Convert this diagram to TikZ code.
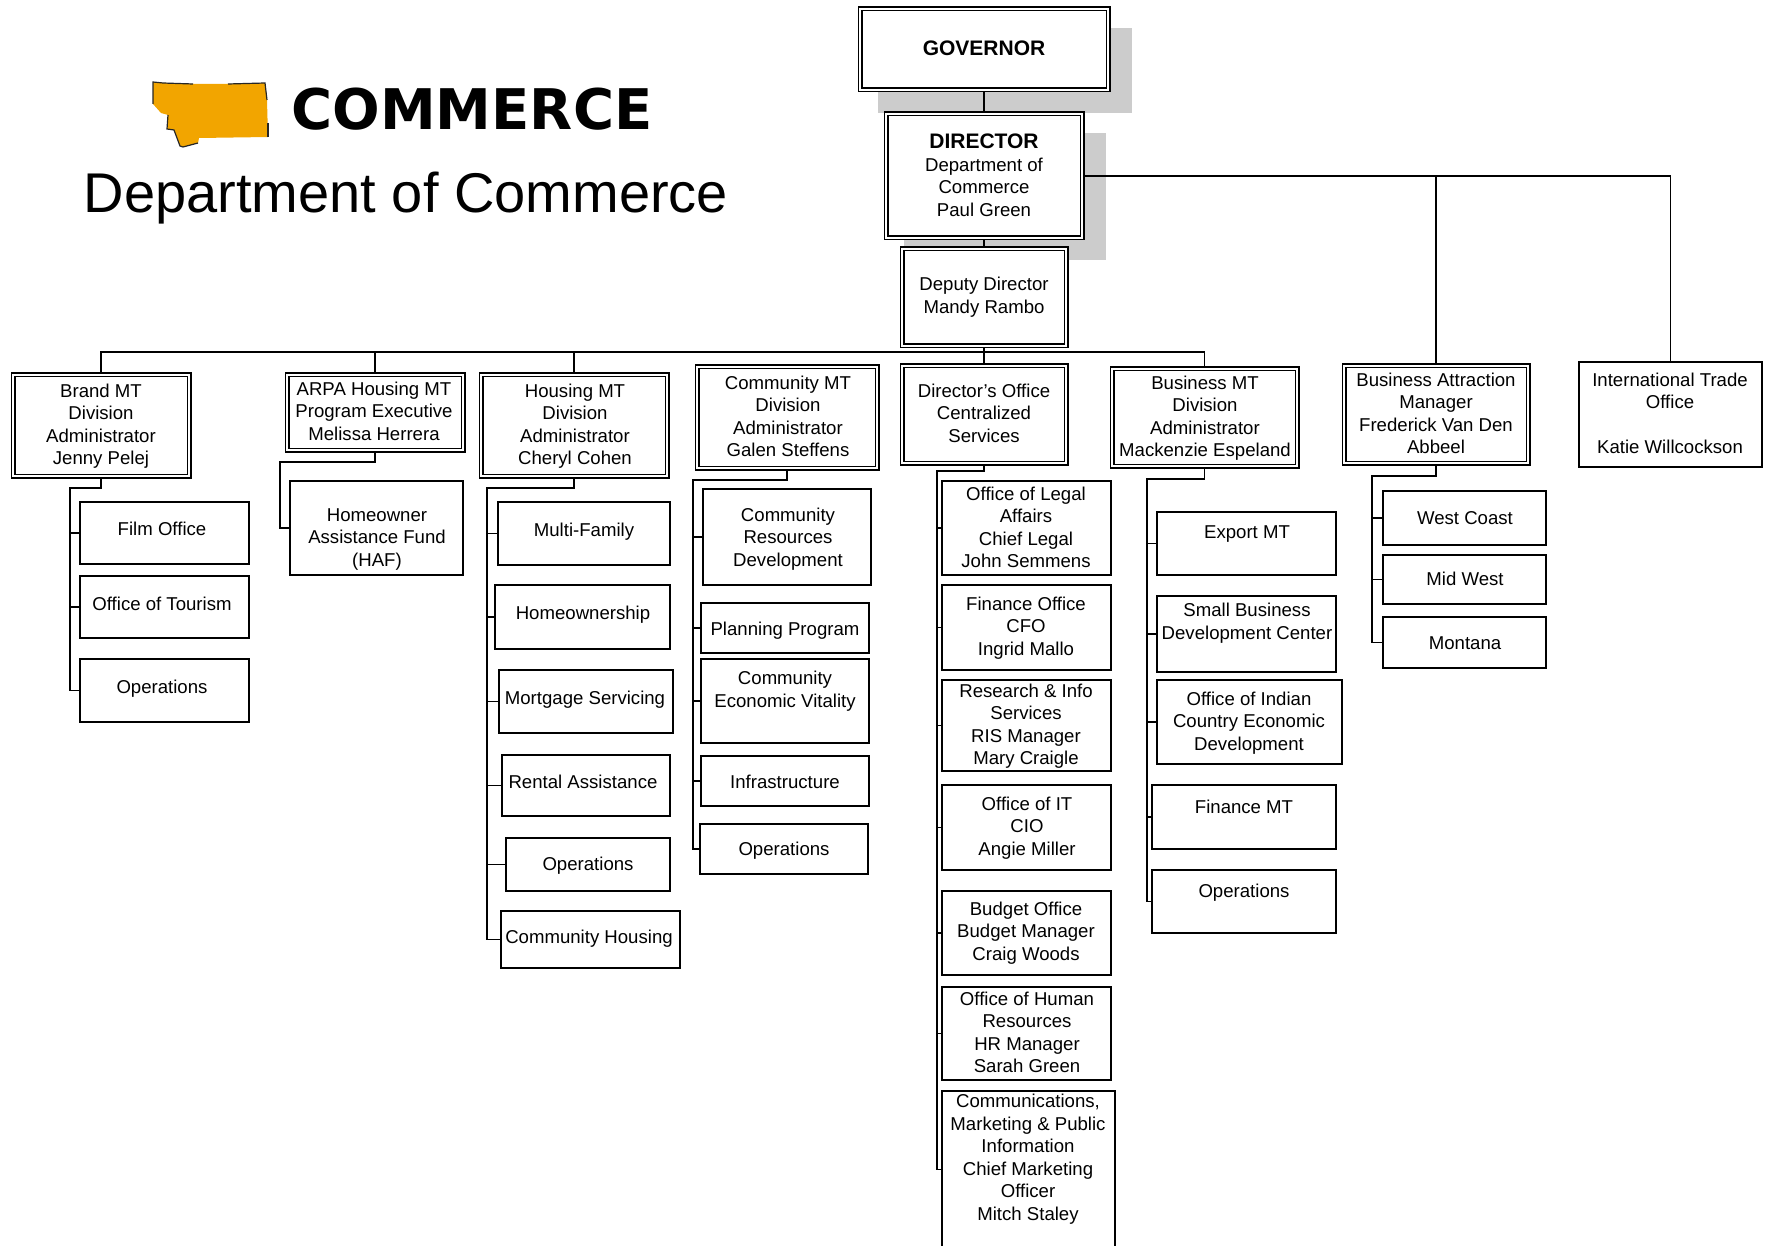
\documentclass[tikz,border=0pt]{standalone}
\usepackage{fontspec}
\setmainfont{Liberation Sans}
\newfontfamily\logofont{DejaVu Sans}
\definecolor{mtorange}{HTML}{F2A500}
\definecolor{dropgrey}{HTML}{CCCCCC}
\tikzset{
    unit/.style={draw, fill=white, line width=1.5pt, inner sep=0},
    dbl/.style={draw, fill=white, line width=1.5pt, double, double distance=2pt, inner sep=0, outer sep=2.5pt},
    unittext/.style={align=center, inner sep=0, yshift=-3.5pt, font=\fontsize{18.6}{22.5}\selectfont,
        execute at begin node=\strut, execute at end node=\strut},
    link/.style={line width=1.4pt, line cap=rect},
    logoedge/.style={line width=1.2pt, black!85},
    dropshadow/.style={fill=dropgrey}
}
% [style]{name}{x1}{y1}{x2}{y2}{text x}{text y}{text}
\newcommand{\unitbox}[9][unit]{%
    \node[#1, minimum width={#5-#3}, minimum height={#6-#4}] (#2) at ({(#3+#5)/2}, {(#4+#6)/2}) {};
    \node[unittext] (#2-t) at (#7, #8) {#9};
}
\newcommand{\headline}[1]{{\fontsize{21}{22.5}\selectfont\bfseries #1}}

\begin{document}
\begin{tikzpicture}[x=1pt, y=-1pt]
    \useasboundingbox (0, 0) rectangle (1767, 1246);
    \clip (0, 0) rectangle (1767, 1246);

    % logo and title
    \fill[mtorange] (153, 82) -- (163, 83) -- (193, 84) -- (228, 84) -- (265, 83) -- (267, 100) -- (268, 137)
        -- (199, 138) -- (198, 143) -- (183, 147) -- (180, 146) -- (174, 130) -- (167, 129) -- (168, 115)
        -- (161, 113) -- (153, 104) -- cycle;
    \draw[logoedge] (153, 104) -- (153, 82) -- (163, 83) -- (193, 84);
    \draw[logoedge] (228, 84) -- (265, 83) -- (267, 100);
    \draw[logoedge] (268, 123) -- (268, 137);
    \draw[logoedge] (198, 143) -- (183, 147) -- (180, 146) -- (174, 130) -- (167, 129) -- (168, 115);
    \node[inner sep=0, font=\logofont\fontsize{56}{60}\selectfont\bfseries] (logotext) at (472, 109) {COMMERCE};
    \node[inner sep=0, font=\fontsize{56}{60}\selectfont] (title) at (406, 198.5) {Department of Commerce};

    % grey blocks behind the top boxes
    \fill[dropshadow] (878, 28) rectangle (1132, 113);
    \fill[dropshadow] (904, 133) rectangle (1106, 260);

    % top of the chart
    \unitbox[dbl]{gov}{860}{9}{1108}{90}{984}{48}{\headline{GOVERNOR}}
    \unitbox[dbl]{dir}{886}{114}{1082}{238}{984}{175}{\headline{DIRECTOR}\\Department of\\Commerce\\Paul Green}
    \unitbox[dbl]{dep}{902}{249}{1066}{346}{984}{295}{Deputy Director\\Mandy Rambo}

    % divisions
    \unitbox[dbl]{brand}{13}{375}{189}{476}{101}{424}{Brand MT\\Division\\Administrator\\Jenny Pelej}
    \unitbox[dbl]{arpa}{287}{375}{463}{450}{374}{411}{ARPA Housing MT\\Program Executive\\Melissa Herrera}
    \unitbox[dbl]{housing}{481}{375}{667}{476}{575}{424}{Housing MT\\Division\\Administrator\\Cheryl Cohen}
    \unitbox[dbl]{cmt}{697}{367}{877}{468}{788}{416}{Community MT\\Division\\Administrator\\Galen Steffens}
    \unitbox[dbl]{dirof}{902}{366}{1066}{463}{984}{413}{Director's Office\\Centralized\\Services}
    \unitbox[dbl]{bmt}{1112}{369}{1297}{466}{1205}{416}{Business MT\\Division\\Administrator\\Mackenzie Espeland}
    \unitbox[dbl]{ba}{1344}{366}{1528}{463}{1436}{413}{Business Attraction\\Manager\\Frederick Van Den\\Abbeel}
    \unitbox{intl}{1579}{362}{1762}{467}{1670}{413}{International Trade\\Office\\~\\Katie Willcockson}

    % units under brand
    \unitbox{film}{80}{502}{249}{564}{162}{527}{Film Office}
    \unitbox{tour}{80}{576}{249}{638}{162}{602}{Office of Tourism}
    \unitbox{brandops}{80}{659}{249}{722}{162}{685}{Operations}

    % unit under arpa
    \unitbox{haf}{290}{481}{463}{575}{377}{537}{Homeowner\\Assistance Fund\\(HAF)}

    % units under housing
    \unitbox{multi}{498}{502}{670}{565}{584}{528}{Multi-Family}
    \unitbox{homeown}{495}{585}{670}{649}{583}{611}{Homeownership}
    \unitbox{mortgage}{499}{670}{673}{733}{585}{696}{Mortgage Servicing}
    \unitbox{rental}{502}{755}{670}{816}{583}{780}{Rental Assistance}
    \unitbox{housops}{506}{838}{670}{891}{588}{862}{Operations}
    \unitbox{commhous}{501}{911}{680}{968}{589}{935}{Community Housing}

    % units under community
    \unitbox{crd}{703}{489}{871}{585}{788}{537}{Community\\Resources\\Development}
    \unitbox{planning}{701}{603}{869}{653}{785}{627}{Planning Program}
    \unitbox{vitality}{701}{659}{869}{743}{785}{689}{Community\\Economic Vitality}
    \unitbox{infra}{701}{756}{869}{806}{785}{780}{Infrastructure}
    \unitbox{commops}{700}{824}{868}{874}{784}{847}{Operations}

    % units under the director's office
    \unitbox{legal}{942}{481}{1111}{575}{1026}{527}{Office of Legal\\Affairs\\Chief Legal\\John Semmens}
    \unitbox{fin}{942}{585}{1111}{670}{1026}{626}{Finance Office\\CFO\\Ingrid Mallo}
    \unitbox{research}{942}{680}{1111}{771}{1026}{724}{Research \& Info\\Services\\RIS Manager\\Mary Craigle}
    \unitbox{itoff}{942}{785}{1111}{870}{1027}{826}{Office of IT\\CIO\\Angie Miller}
    \unitbox{budget}{942}{891}{1111}{975}{1026}{931}{Budget Office\\Budget Manager\\Craig Woods}
    \unitbox{hr}{942}{987}{1111}{1080}{1027}{1032}{Office of Human\\Resources\\HR Manager\\Sarah Green}
    \unitbox{comms}{942}{1091}{1115}{1248}{1028}{1157}{Communications,\\Marketing \& Public\\Information\\Chief Marketing\\Officer\\Mitch Staley}

    % units under business
    \unitbox{export}{1157}{512}{1336}{575}{1247}{530}{Export MT}
    \unitbox{sbdc}{1157}{596}{1336}{672}{1247}{621}{Small Business\\Development Center}
    \unitbox{indian}{1157}{680}{1342}{764}{1249}{721}{Office of Indian\\Country Economic\\Development}
    \unitbox{finmt}{1152}{785}{1336}{849}{1244}{805}{Finance MT}
    \unitbox{bizops}{1152}{870}{1336}{933}{1244}{889}{Operations}

    % units under business attraction
    \unitbox{west}{1383}{491}{1546}{545}{1465}{516}{West Coast}
    \unitbox{midw}{1383}{555}{1546}{604}{1465}{577}{Mid West}
    \unitbox{montana}{1383}{617}{1546}{668}{1465}{641}{Montana}

    % connectors
    \coordinate (bus) at (984, 352);
    \draw[link] (gov) -- (dir);
    \draw[link] (dir) -- (dep);
    \draw[link] (dep.south) -- (bus);
    \draw[link] (bus -| brand.north) -- (bus -| bmt.north);
    \foreach \div in {brand, arpa, housing, dirof, bmt}
        \draw[link] (bus -| \div.north) -- (\div.north);
    \draw[link] (dir.east) -| (intl.north);
    \draw[link] (dir.east -| ba.north) -- (ba.north);

    \coordinate (brand-j) at (70, 488);
    \coordinate (arpa-j) at (280, 462);
    \coordinate (housing-j) at (487, 488);
    \coordinate (cmt-j) at (693, 480);
    \coordinate (dirof-j) at (937, 471);
    \coordinate (bmt-j) at (1147, 479);
    \coordinate (ba-j) at (1372, 476);

    \draw[link] (brand.south) |- (brand-j) -- (brand-j |- brandops.west);
    \draw[link] (arpa.south) |- (arpa-j) -- (arpa-j |- haf.west);
    \draw[link] (housing.south) |- (housing-j) -- (housing-j |- commhous.west);
    \draw[link] (cmt.south) |- (cmt-j) -- (cmt-j |- commops.west);
    \draw[link] (dirof.south) |- (dirof-j) -- (dirof-j |- comms.west);
    \draw[link] (bmt.south) |- (bmt-j) -- (bmt-j |- bizops.west);
    \draw[link] (ba.south) |- (ba-j) -- (ba-j |- montana.west);

    \foreach \kid in {film, tour, brandops}
        \draw[link] (brand-j |- \kid.west) -- (\kid.west);
    \draw[link] (arpa-j |- haf.west) -- (haf.west);
    \foreach \kid in {multi, homeown, mortgage, rental, housops, commhous}
        \draw[link] (housing-j |- \kid.west) -- (\kid.west);
    \foreach \kid in {crd, planning, vitality, infra, commops}
        \draw[link] (cmt-j |- \kid.west) -- (\kid.west);
    \foreach \kid in {legal, fin, research, itoff, budget, hr, comms}
        \draw[link] (dirof-j |- \kid.west) -- (\kid.west);
    \foreach \kid in {export, sbdc, indian, finmt, bizops}
        \draw[link] (bmt-j |- \kid.west) -- (\kid.west);
    \foreach \kid in {west, midw, montana}
        \draw[link] (ba-j |- \kid.west) -- (\kid.west);
\end{tikzpicture}
\end{document}
